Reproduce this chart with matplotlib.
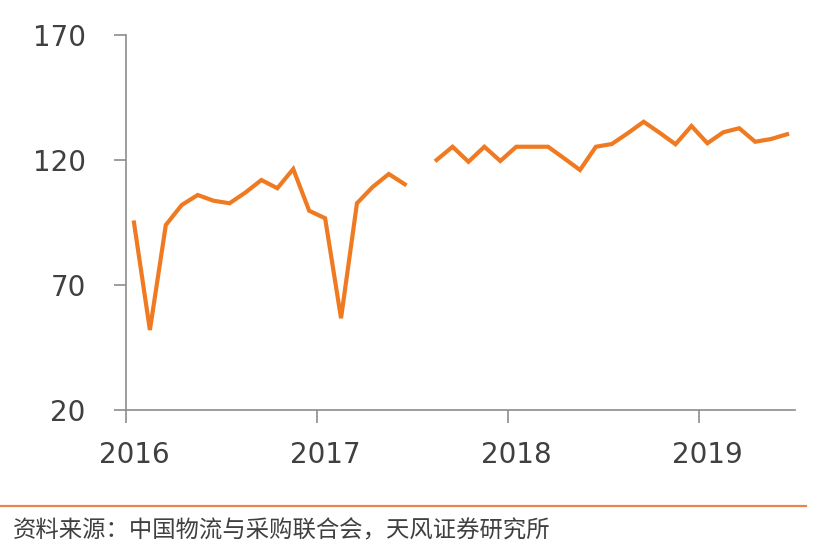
import numpy as np
import matplotlib.pyplot as plt

plt.rcParams['font.family'] = ['Noto Sans CJK SC', 'DejaVu Sans']

# monthly values, Jan 2016 - Jun 2019 (Jul 2017 missing)
values_2016 = [95, 52, 94, 102, 106, 103.7, 102.7, 107, 112, 108.7, 116.4, 99.7]
values_2017 = [96.7, 56.7, 102.7, 109.3, 114.4, 110.3, np.nan, 120, 125.3, 119.3, 125.3, 119.6]
values_2018 = [125.3, 125.3, 125.3, 120.7, 116, 125.3, 126.4, 130.7, 135.3, 130.9, 126.3, 133.6]
values_2019 = [126.7, 131.1, 132.7, 127.3, 128.4, 130.3]
values = np.array(values_2016 + values_2017 + values_2018 + values_2019)
years = ['2016', '2017', '2018', '2019']
yticks = [20, 70, 120, 170]

line_color = '#F07A22'
axis_color = '#8C8C8C'
text_color = '#404040'

fig = plt.figure(figsize=(8.26, 5.6), dpi=100)
ax = fig.add_axes([126 / 826, 150 / 560, (795 - 126) / 826, (410 - 35) / 560])

x = np.arange(len(values))
ax.plot(x, values, color=line_color, lw=3.0, solid_joinstyle='miter')

ax.set_xlim(-0.5, len(values) - 0.5)
ax.set_ylim(20, 170)

ax.set_yticks(yticks)
ax.set_yticklabels([str(v) for v in yticks], fontsize=20, color=text_color,
                   family=['DejaVu Sans'])
ax.tick_params(axis='y', direction='out', length=9, width=1.2, color=axis_color, pad=20)

# year boundaries as major ticks, labels on January points
ax.set_xticks([-0.5 + 12 * i for i in range(len(years))])
ax.set_xticklabels([])
ax.set_xticks([12 * i for i in range(len(years))], minor=True)
ax.set_xticklabels(years, minor=True, fontsize=20, color=text_color, family=['DejaVu Sans'])
ax.tick_params(axis='x', which='major', direction='out', length=9, width=1.2, color=axis_color)
ax.tick_params(axis='x', which='minor', length=0, pad=22)

for s in ['top', 'right']:
    ax.spines[s].set_visible(False)
for s in ['left', 'bottom']:
    ax.spines[s].set_color(axis_color)
    ax.spines[s].set_linewidth(1.2)

# source line and note
fig.add_artist(plt.Line2D([0, 806 / 826], [1 - 505.5 / 560] * 2, color='#E8844C', lw=1.6))
fig.text(13 / 826, 1 - 531 / 560, '资料来源：中国物流与采购联合会，天风证券研究所',
         fontsize=16.8, color=text_color, va='center', ha='left')

fig.savefig('out.png', dpi=100)
